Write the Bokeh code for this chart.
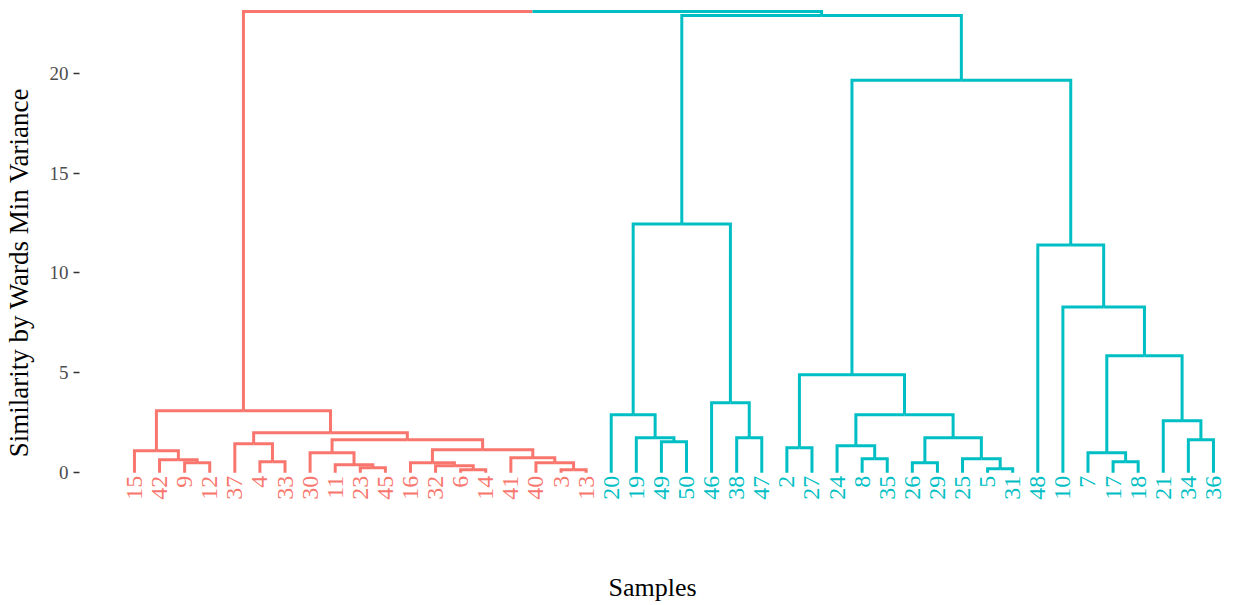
import math
from bokeh.plotting import figure
from bokeh.models import Range1d, FixedTicker, ColumnDataSource
from bokeh.embed import file_html
from bokeh.resources import INLINE
from bokeh.core.properties import value

# ---- data ----
leaf_order = [15, 42, 9, 12, 37, 4, 33, 30, 11, 23, 45, 16, 32, 6, 14, 41, 40, 3, 13,
              20, 19, 49, 50, 46, 38, 47, 2, 27, 24, 8, 35, 26, 29, 25, 5, 31, 48, 10,
              7, 17, 18, 21, 34, 36]

# hclust-style merges: negative = sample id, positive = earlier merge (1-based)
merge_left = [-3, -6, -23, -32, -11, -9, -4, -40, -16, -42, -41, -30, -15, 9, -37, 12, 15, 13,
              -5, -26, -17, -8, -25, -7, -2, -24, -49, -34, -19, -38, 20, -21, -20, 26, -46,
              25, 24, -10, -48, 33, 36, 40, 18]
merge_right = [-13, -14, -45, 2, 3, -12, -33, 1, 4, 6, 8, 5, 10, 11, 7, 14, 16, 17,
               -31, -29, -18, -35, 19, 21, -27, 22, -50, -36, 27, -47, 23, 28, 29, 31, 30,
               34, 32, 37, 38, 35, 39, 41, 42]
merge_height = [0.15, 0.15, 0.25, 0.35, 0.4, 0.5, 0.55, 0.5, 0.5, 0.65, 0.75, 1.0, 1.1, 1.15,
                1.45, 1.65, 2.0, 3.1,
                0.2, 0.5, 0.55, 0.7, 0.7, 1.0, 1.25, 1.35, 1.55, 1.65, 1.75, 1.75, 1.75, 2.6,
                2.9, 2.9, 3.5, 4.9, 5.85, 8.3, 11.4, 12.45, 19.65, 22.9, 23.1]

cluster_colors = ["#F8766D", "#00BFC4"]
y_ticks = [0, 5, 10, 15, 20]
x_title = "Samples"
y_title = "Similarity by Wards Min Variance"

# ---- layout of the tree from the merge table ----
leaf_pos = {lab: i for i, lab in enumerate(leaf_order)}
node_x = {}
node_h = {}


def ref(k):
    return ("leaf", -k) if k < 0 else ("node", k)


def pos(r):
    if r[0] == "leaf":
        return leaf_pos[r[1]], 0.0
    return node_x[r[1]], node_h[r[1]]


for i in range(len(merge_height)):
    xl, _ = pos(ref(merge_left[i]))
    xr, _ = pos(ref(merge_right[i]))
    node_x[i + 1] = (xl + xr) / 2.0
    node_h[i + 1] = merge_height[i]

# colours: the two branches of the final merge
root = len(merge_height)
node_col = {}
leaf_col = {}


def paint(r, c):
    if r[0] == "leaf":
        leaf_col[r[1]] = c
        return
    node_col[r[1]] = c
    paint(ref(merge_left[r[1] - 1]), c)
    paint(ref(merge_right[r[1] - 1]), c)


paint(ref(merge_left[root - 1]), cluster_colors[0])
paint(ref(merge_right[root - 1]), cluster_colors[1])

xs, ys, cols = [], [], []
for i in range(len(merge_height)):
    k = i + 1
    xp, hp = node_x[k], node_h[k]
    for child in (merge_left[i], merge_right[i]):
        r = ref(child)
        xc, hc = pos(r)
        c = leaf_col[r[1]] if r[0] == "leaf" else node_col[r[1]]
        xs.append([xc, xc, xp])
        ys.append([hc, hp, hp])
        cols.append(c)

src = ColumnDataSource(dict(xs=xs, ys=ys, color=cols))

p = figure(width=1225, height=604, output_backend="svg", toolbar_location=None,
           x_range=Range1d(-2.19, 43.48), y_range=Range1d(-3.6, 23.65),
           min_border_left=78, min_border_right=0, min_border_top=0, min_border_bottom=59)
p.outline_line_color = None
p.xgrid.visible = False
p.ygrid.visible = False
p.background_fill_color = "white"

p.multi_line(xs="xs", ys="ys", line_color="color", line_width=3, source=src,
             line_join="miter", line_cap="butt")

lsrc = ColumnDataSource(dict(x=[leaf_pos[l] for l in leaf_order],
                             y=[-0.15] * len(leaf_order),
                             text=[str(l) for l in leaf_order],
                             color=[leaf_col[l] for l in leaf_order]))
p.text(x="x", y="y", text="text", text_color="color", source=lsrc, angle=math.pi / 2,
       text_align="right", text_baseline="middle",
       text_font=value("Liberation Serif"), text_font_size="24px")

ya = p.yaxis[0]
ya.ticker = FixedTicker(ticks=y_ticks)
ya.axis_line_color = None
ya.major_tick_in = 0
ya.major_tick_out = 6
ya.major_tick_line_color = "#333333"
ya.major_tick_line_width = 1.5
ya.minor_tick_line_color = None
ya.major_label_standoff = 5
ya.major_label_text_font = "Liberation Serif"
ya.major_label_text_font_size = "19px"
ya.major_label_text_color = "#4D4D4D"
ya.axis_label = y_title
ya.axis_label_text_font = "Liberation Serif"
ya.axis_label_text_font_size = "27px"
ya.axis_label_text_font_style = "normal"
ya.axis_label_text_color = "black"
ya.axis_label_standoff = 13

xa = p.xaxis[0]
xa.ticker = FixedTicker(ticks=[])
xa.axis_line_color = None
xa.major_tick_line_color = None
xa.minor_tick_line_color = None
xa.major_label_text_font_size = "0px"
xa.axis_label = x_title
xa.axis_label_text_font = "Liberation Serif"
xa.axis_label_text_font_size = "26px"
xa.axis_label_text_font_style = "normal"
xa.axis_label_text_color = "black"
xa.axis_label_standoff = 28

open("out.html", "w").write(file_html(p, INLINE))
